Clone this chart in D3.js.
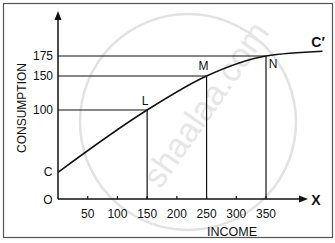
<!DOCTYPE html>
<html>
<head>
<meta charset="utf-8">
<script src="https://cdn.jsdelivr.net/npm/d3@7"></script>
<style>
  body { margin: 0; background: #fff; }
  text { font-family: "Liberation Sans", Arial, sans-serif; fill: #111; }
</style>
</head>
<body>
<div id="chart"></div>
<script>
let width = 335
  , height = 243;

// consumption curve points (income, consumption)
let curveIncome = [0, 150, 250, 350, 445];
let curveConsumption = [30, 100, 150, 175, 181];
// marked points
let pointNames = ['L', 'M', 'N'];
let pointIncome = [150, 250, 350];
let pointConsumption = [100, 150, 175];
// ticks
let xTicks = [50, 100, 150, 200, 250, 300, 350];
let yTicks = [100, 150, 175];

let svg = d3.select("#chart").append("svg").attr("width", width).attr("height", height);

// frame
svg.append("rect").attr("x", 3.5).attr("y", 3.5).attr("width", 329).attr("height", 234)
  .attr("fill", "#fff").attr("stroke", "#555").attr("stroke-width", 1.2);

// watermark
svg.append("circle").attr("cx", 188).attr("cy", 122).attr("r", 108)
  .attr("fill", "none").attr("stroke", "#e2e2e2").attr("stroke-width", 2.5);
svg.append("text").attr("transform", "translate(160,190) rotate(-55)")
  .style("font-size", "34px").style("fill", "#e6e6e6").text("shaalaa.com");

// schematic axis: y is not to scale in the original, so piecewise scale
var x = d3.scaleLinear().domain([0, 350]).range([58, 266]);
var y = d3.scaleLinear().domain([0, 100, 150, 175]).range([199, 110, 76, 56]);

let ink = "#111";

// guide lines
pointNames.forEach((n, i) => {
  let px = x(pointIncome[i]), py = y(pointConsumption[i]);
  svg.append("line").attr("x1", x(0)).attr("x2", px).attr("y1", py).attr("y2", py)
    .attr("stroke", ink).attr("stroke-width", 1.2);
  svg.append("line").attr("x1", px).attr("x2", px).attr("y1", py).attr("y2", y(0))
    .attr("stroke", ink).attr("stroke-width", 1.2);
});

// curve
let pts = curveIncome.map((v, i) => [x(v), y(curveConsumption[i])]);
svg.append("path").attr("d", d3.line().curve(d3.curveMonotoneX)(pts))
  .attr("fill", "none").attr("stroke", ink).attr("stroke-width", 1.5);

// axes
svg.append("line").attr("x1", x(0)).attr("x2", x(0)).attr("y1", y(0)).attr("y2", 18)
  .attr("stroke", ink).attr("stroke-width", 1.5);
svg.append("path").attr("d", "M" + x(0) + ",11 L" + (x(0) - 3.5) + ",20 L" + (x(0) + 3.5) + ",20 Z").attr("fill", ink);
svg.append("line").attr("x1", x(0)).attr("x2", 300).attr("y1", y(0)).attr("y2", y(0))
  .attr("stroke", ink).attr("stroke-width", 1.5);
svg.append("path").attr("d", "M308," + y(0) + " L299," + (y(0) - 3.5) + " L299," + (y(0) + 3.5) + " Z").attr("fill", ink);

// x ticks
svg.selectAll("line.xt").data(xTicks).enter().append("line")
  .attr("x1", d => x(d)).attr("x2", d => x(d)).attr("y1", y(0)).attr("y2", y(0) - 3)
  .attr("stroke", ink).attr("stroke-width", 1.2);
svg.selectAll("text.xt").data(xTicks).enter().append("text")
  .attr("x", d => x(d)).attr("y", 217.5).attr("text-anchor", "middle")
  .style("font-size", "12px").text(d => d);

// y tick labels
svg.selectAll("text.yt").data(yTicks).enter().append("text")
  .attr("x", 53).attr("y", d => y(d) + 4).attr("text-anchor", "end")
  .style("font-size", "12px").text(d => d);

// letters
let labelOffsets = [[-2, -5], [-3, -6], [7, 12]];
pointNames.forEach((n, i) => {
  svg.append("text").attr("x", x(pointIncome[i]) + labelOffsets[i][0]).attr("y", y(pointConsumption[i]) + labelOffsets[i][1])
    .attr("text-anchor", "middle").style("font-size", "12px").text(n);
});
svg.append("text").attr("x", 48).attr("y", y(30) + 4).attr("text-anchor", "middle").style("font-size", "12px").text("C");
svg.append("text").attr("x", 48).attr("y", 204).attr("text-anchor", "middle").style("font-size", "12px").text("O");
svg.append("text").attr("x", 318).attr("y", 47).attr("text-anchor", "middle").style("font-size", "14px").style("font-weight", "bold").text("C\u2032");
svg.append("text").attr("x", 316).attr("y", 205).attr("text-anchor", "middle").style("font-size", "14px").style("font-weight", "bold").text("X");

// axis titles
svg.append("text").attr("x", 232).attr("y", 235.5).attr("text-anchor", "middle").style("font-size", "12.5px").text("INCOME");
svg.append("text").attr("transform", "translate(26,108) rotate(-90)").attr("text-anchor", "middle")
  .style("font-size", "12px").text("CONSUMPTION");
</script>
</body>
</html>
